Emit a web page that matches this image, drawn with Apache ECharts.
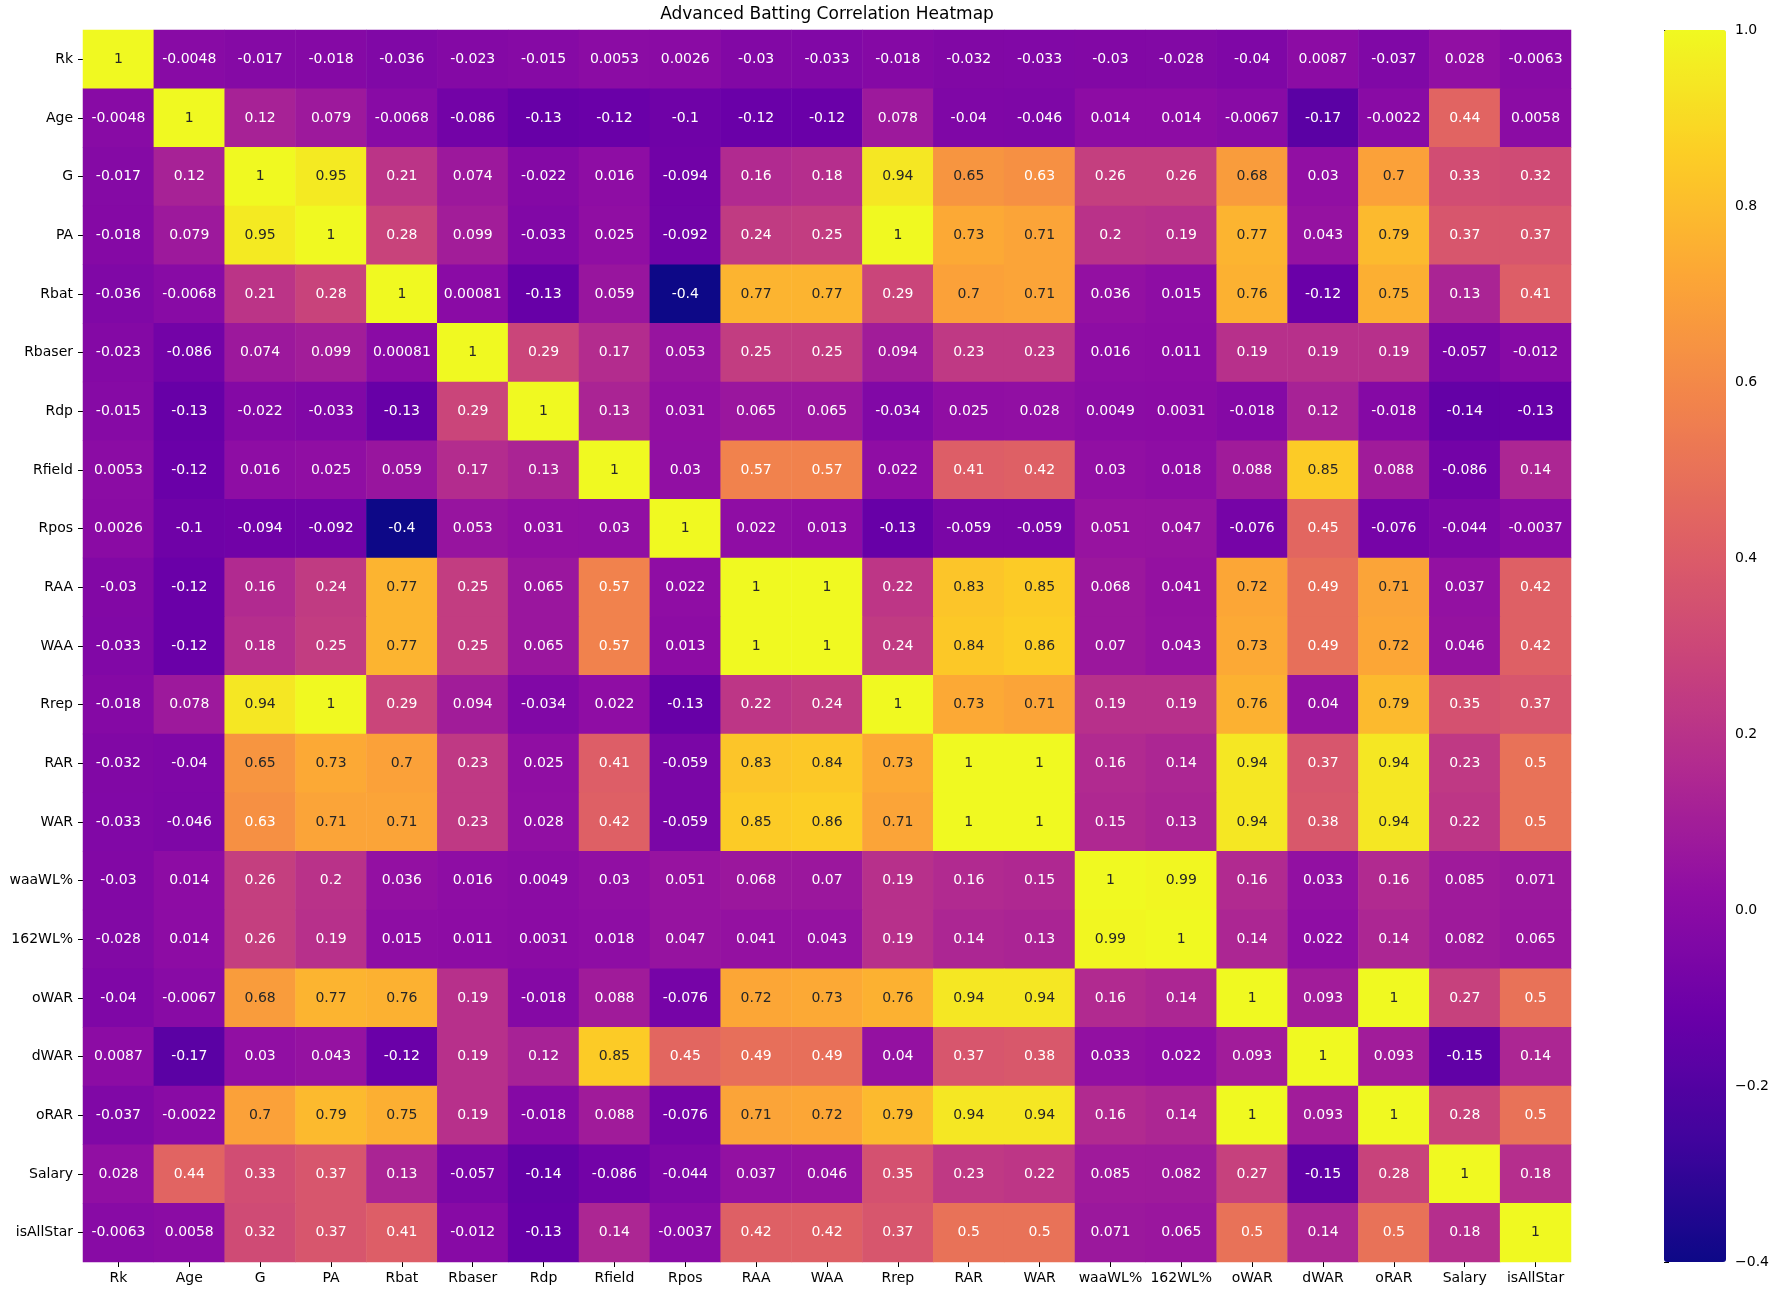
<!DOCTYPE html>
<html>
<head>
<meta charset="utf-8">
<script src="https://cdn.jsdelivr.net/npm/echarts@6/dist/echarts.min.js"></script>
<style>
  html, body { margin: 0; padding: 0; background: #fff; }
  #chart { width: 1779px; height: 1296px; }
</style>
</head>
<body>
<div id="chart"></div>
<script>
const labels = ['Rk', 'Age', 'G', 'PA', 'Rbat', 'Rbaser', 'Rdp', 'Rfield', 'Rpos', 'RAA', 'WAA',
    'Rrep', 'RAR', 'WAR', 'waaWL%', '162WL%', 'oWAR', 'dWAR', 'oRAR', 'Salary', 'isAllStar'];

const corr = [
    [1, -0.0048, -0.017, -0.018, -0.036, -0.023, -0.015, 0.0053, 0.0026, -0.03, -0.033, -0.018, -0.032, -0.033, -0.03, -0.028, -0.04, 0.0087, -0.037, 0.028, -0.0063],
    [-0.0048, 1, 0.12, 0.079, -0.0068, -0.086, -0.13, -0.12, -0.1, -0.12, -0.12, 0.078, -0.04, -0.046, 0.014, 0.014, -0.0067, -0.17, -0.0022, 0.44, 0.0058],
    [-0.017, 0.12, 1, 0.95, 0.21, 0.074, -0.022, 0.016, -0.094, 0.16, 0.18, 0.94, 0.65, 0.63, 0.26, 0.26, 0.68, 0.03, 0.7, 0.33, 0.32],
    [-0.018, 0.079, 0.95, 1, 0.28, 0.099, -0.033, 0.025, -0.092, 0.24, 0.25, 1, 0.73, 0.71, 0.2, 0.19, 0.77, 0.043, 0.79, 0.37, 0.37],
    [-0.036, -0.0068, 0.21, 0.28, 1, 0.00081, -0.13, 0.059, -0.4, 0.77, 0.77, 0.29, 0.7, 0.71, 0.036, 0.015, 0.76, -0.12, 0.75, 0.13, 0.41],
    [-0.023, -0.086, 0.074, 0.099, 0.00081, 1, 0.29, 0.17, 0.053, 0.25, 0.25, 0.094, 0.23, 0.23, 0.016, 0.011, 0.19, 0.19, 0.19, -0.057, -0.012],
    [-0.015, -0.13, -0.022, -0.033, -0.13, 0.29, 1, 0.13, 0.031, 0.065, 0.065, -0.034, 0.025, 0.028, 0.0049, 0.0031, -0.018, 0.12, -0.018, -0.14, -0.13],
    [0.0053, -0.12, 0.016, 0.025, 0.059, 0.17, 0.13, 1, 0.03, 0.57, 0.57, 0.022, 0.41, 0.42, 0.03, 0.018, 0.088, 0.85, 0.088, -0.086, 0.14],
    [0.0026, -0.1, -0.094, -0.092, -0.4, 0.053, 0.031, 0.03, 1, 0.022, 0.013, -0.13, -0.059, -0.059, 0.051, 0.047, -0.076, 0.45, -0.076, -0.044, -0.0037],
    [-0.03, -0.12, 0.16, 0.24, 0.77, 0.25, 0.065, 0.57, 0.022, 1, 1, 0.22, 0.83, 0.85, 0.068, 0.041, 0.72, 0.49, 0.71, 0.037, 0.42],
    [-0.033, -0.12, 0.18, 0.25, 0.77, 0.25, 0.065, 0.57, 0.013, 1, 1, 0.24, 0.84, 0.86, 0.07, 0.043, 0.73, 0.49, 0.72, 0.046, 0.42],
    [-0.018, 0.078, 0.94, 1, 0.29, 0.094, -0.034, 0.022, -0.13, 0.22, 0.24, 1, 0.73, 0.71, 0.19, 0.19, 0.76, 0.04, 0.79, 0.35, 0.37],
    [-0.032, -0.04, 0.65, 0.73, 0.7, 0.23, 0.025, 0.41, -0.059, 0.83, 0.84, 0.73, 1, 1, 0.16, 0.14, 0.94, 0.37, 0.94, 0.23, 0.5],
    [-0.033, -0.046, 0.63, 0.71, 0.71, 0.23, 0.028, 0.42, -0.059, 0.85, 0.86, 0.71, 1, 1, 0.15, 0.13, 0.94, 0.38, 0.94, 0.22, 0.5],
    [-0.03, 0.014, 0.26, 0.2, 0.036, 0.016, 0.0049, 0.03, 0.051, 0.068, 0.07, 0.19, 0.16, 0.15, 1, 0.99, 0.16, 0.033, 0.16, 0.085, 0.071],
    [-0.028, 0.014, 0.26, 0.19, 0.015, 0.011, 0.0031, 0.018, 0.047, 0.041, 0.043, 0.19, 0.14, 0.13, 0.99, 1, 0.14, 0.022, 0.14, 0.082, 0.065],
    [-0.04, -0.0067, 0.68, 0.77, 0.76, 0.19, -0.018, 0.088, -0.076, 0.72, 0.73, 0.76, 0.94, 0.94, 0.16, 0.14, 1, 0.093, 1, 0.27, 0.5],
    [0.0087, -0.17, 0.03, 0.043, -0.12, 0.19, 0.12, 0.85, 0.45, 0.49, 0.49, 0.04, 0.37, 0.38, 0.033, 0.022, 0.093, 1, 0.093, -0.15, 0.14],
    [-0.037, -0.0022, 0.7, 0.79, 0.75, 0.19, -0.018, 0.088, -0.076, 0.71, 0.72, 0.79, 0.94, 0.94, 0.16, 0.14, 1, 0.093, 1, 0.28, 0.5],
    [0.028, 0.44, 0.33, 0.37, 0.13, -0.057, -0.14, -0.086, -0.044, 0.037, 0.046, 0.35, 0.23, 0.22, 0.085, 0.082, 0.27, -0.15, 0.28, 1, 0.18],
    [-0.0063, 0.0058, 0.32, 0.37, 0.41, -0.012, -0.13, 0.14, -0.0037, 0.42, 0.42, 0.37, 0.5, 0.5, 0.071, 0.065, 0.5, 0.14, 0.5, 0.18, 1]
];

const vmin = -0.4, vmax = 1.0;

// plasma colormap stops
const plasma = ['#0d0887', '#41049d', '#6a00a8', '#8f0da4', '#b12a90', '#cc4778',
    '#e16462', '#f2844b', '#fca636', '#fcce25', '#f0f921'];

function hexRgb(h) {
    return [parseInt(h.slice(1, 3), 16), parseInt(h.slice(3, 5), 16), parseInt(h.slice(5, 7), 16)];
}

// same choice seaborn makes: dark text on light cells
function textColor(v) {
    let t = Math.min(1, Math.max(0, (v - vmin) / (vmax - vmin))) * (plasma.length - 1);
    const i = Math.min(plasma.length - 2, Math.floor(t));
    const f = t - i;
    const a = hexRgb(plasma[i]), b = hexRgb(plasma[i + 1]);
    const rgb = a.map((c, k) => (c + (b[k] - c) * f) / 255);
    const lin = rgb.map(c => c <= 0.03928 ? c / 12.92 : Math.pow((c + 0.055) / 1.055, 2.4));
    const lum = 0.2126 * lin[0] + 0.7152 * lin[1] + 0.0722 * lin[2];
    return lum > 0.408 ? '#262626' : '#ffffff';
}

const data = [];
corr.forEach((row, y) => {
    row.forEach((v, x) => {
        data.push({value: [x, y, v], label: {color: textColor(v)}});
    });
});

const font = 'DejaVu Sans';
const chart = echarts.init(document.getElementById('chart'));
const option = {
    animation: false,
    backgroundColor: '#fff',
    textStyle: {fontFamily: font},
    graphic: [{
        type: 'text',
        x: 827,
        y: 15,
        style: {
            text: 'Advanced Batting Correlation Heatmap',
            font: '17px "DejaVu Sans"',
            fill: '#000',
            textAlign: 'center',
            textVerticalAlign: 'middle'
        }
    }],
    grid: [
        {left: 83, top: 30, width: 1488, height: 1232},
        {left: 1664, top: 30, width: 62, height: 1232}
    ],
    xAxis: [{
        type: 'category',
        data: labels,
        gridIndex: 0,
        axisLine: {show: false},
        axisTick: {show: true, alignWithLabel: true, length: 5, lineStyle: {color: '#000'}},
        axisLabel: {fontSize: 14, color: '#000', margin: 9, interval: 0},
        splitArea: {show: false}
    }, {
        type: 'value',
        gridIndex: 1,
        show: false
    }],
    yAxis: [{
        type: 'category',
        data: labels,
        inverse: true,
        gridIndex: 0,
        axisLine: {show: false},
        axisTick: {show: true, alignWithLabel: true, length: 5, lineStyle: {color: '#000'}},
        axisLabel: {fontSize: 14, color: '#000', margin: 10, interval: 0},
        splitArea: {show: false}
    }, {
        type: 'value',
        gridIndex: 1,
        position: 'right',
        min: vmin,
        max: vmax,
        interval: 0.2,
        axisLine: {show: false},
        splitLine: {show: false},
        axisTick: {show: true, length: 5, lineStyle: {color: '#000'}},
        axisLabel: {
            fontSize: 14, color: '#000', margin: 9,
            formatter: v => v.toFixed(1).replace('-', '\u2212')
        }
    }],
    visualMap: {
        type: 'continuous',
        min: vmin,
        max: vmax,
        calculable: false,
        show: true,
        orient: 'vertical',
        left: 1664,
        top: 30,
        padding: 0,
        itemWidth: 62,
        itemHeight: 1232,
        text: null,
        showLabel: false,
        seriesIndex: 0,
        inRange: {color: plasma}
    },
    series: [{
        type: 'heatmap',
        xAxisIndex: 0,
        yAxisIndex: 0,
        data: data,
        label: {
            show: true,
            fontSize: 14,
            fontFamily: font,
            formatter: p => String(p.value[2])
        },
        itemStyle: {borderWidth: 0},
        emphasis: {disabled: true}
    }]
};
chart.setOption(option);
</script>
</body>
</html>
